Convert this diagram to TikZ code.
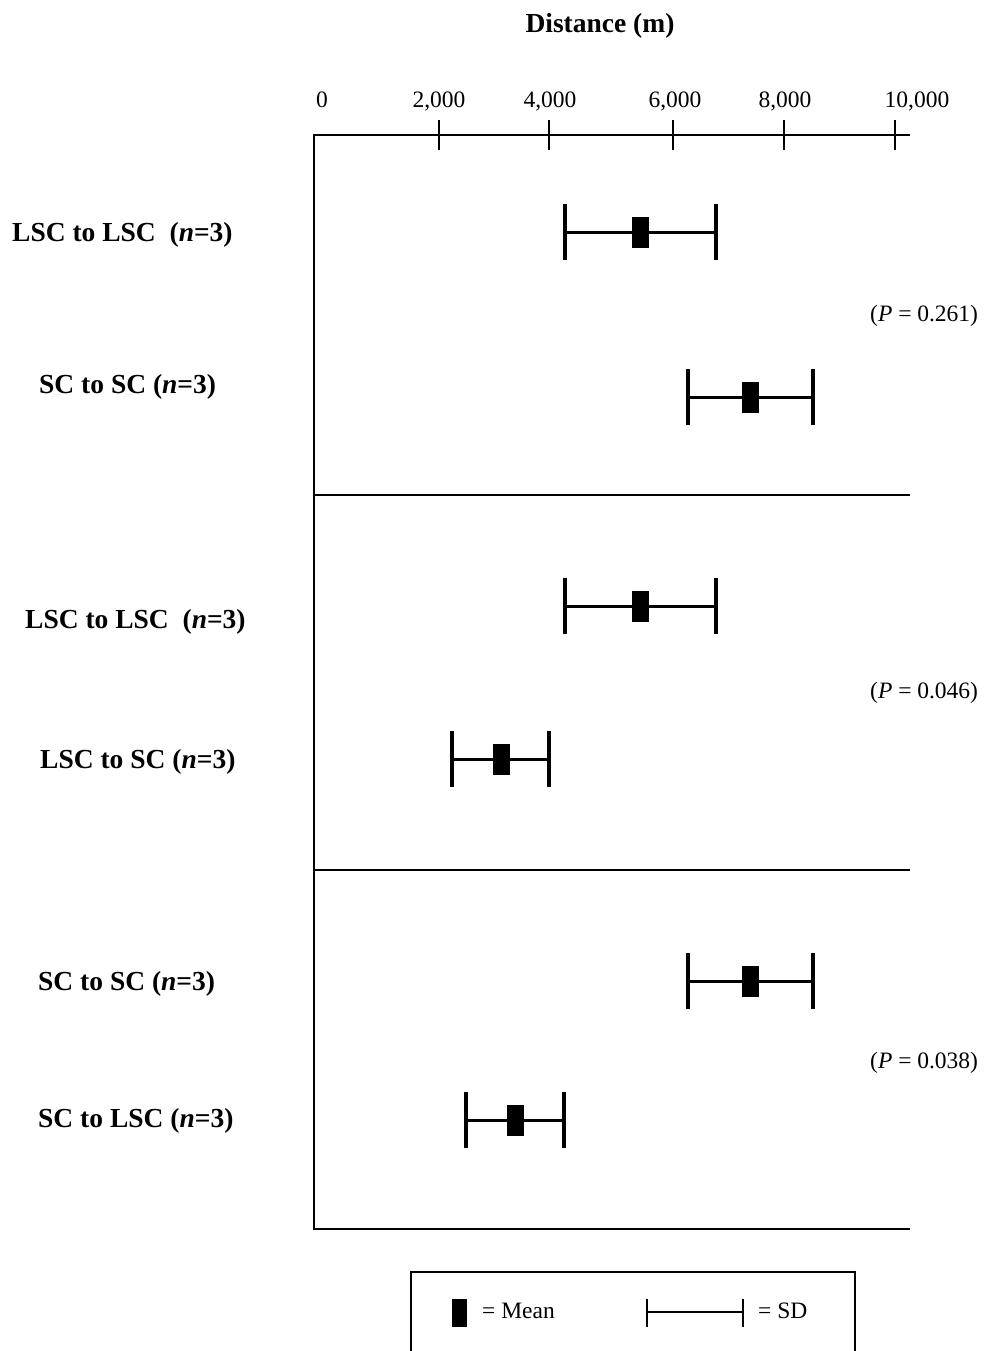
\documentclass[tikz,border=0pt]{standalone}
\usepackage{fontspec}
\setmainfont{Liberation Serif}
\newcommand{\myerrbar}[5]{%
  \coordinate (#1l) at (#3,#2);
  \coordinate (#1r) at (#4,#2);
  \draw[sdbar] (#1l) -- (#1r);
  \draw[sdcap] (#3,#2-28) -- (#3,#2+28);
  \draw[sdcap] (#4,#2-28) -- (#4,#2+28);
  \node[meanbox] (#1m) at (#5,#2) {};
}
\begin{document}
\begin{tikzpicture}[x=1pt,y=-1pt,
  axisline/.style={line width=1.3pt},
  rowlabel/.style={font=\fontsize{27.5}{30}\selectfont\bfseries, anchor=base west, inner sep=0},
  plabel/.style={font=\fontsize{23.5}{26}\selectfont, anchor=base west, inner sep=0},
  ticklabel/.style={font=\fontsize{23.5}{26}\selectfont, anchor=base, inner sep=0},
  sdbar/.style={line width=3pt},
  sdcap/.style={line width=3.3pt},
  meanbox/.style={fill=black, minimum width=17pt, minimum height=31pt, inner sep=0}]
\useasboundingbox (0,0) rectangle (983,1351);

% title
\node[font=\fontsize{27.5}{30}\selectfont\bfseries, anchor=base, inner sep=0] (title) at (600,33) {Distance (m)};

% axis
\coordinate (axtl) at (314,135);
\coordinate (axtr) at (910,135);
\coordinate (axbl) at (314,1229);
\coordinate (axbr) at (910,1229);
\draw[axisline] (axtr) -- (axtl) -- (axbl) -- (axbr);
\coordinate (sep1l) at (314,495);
\coordinate (sep1r) at (910,495);
\coordinate (sep2l) at (314,870);
\coordinate (sep2r) at (910,870);
\draw[axisline] (sep1l) -- (sep1r);
\draw[axisline] (sep2l) -- (sep2r);

% ticks
\foreach \x in {439,549,673,784,895} {
  \draw[axisline] (\x,120) -- (\x,150);
}
\node[ticklabel] (t0) at (322,108) {0};
\node[ticklabel] (t2) at (439,108) {2,000};
\node[ticklabel] (t4) at (550,108) {4,000};
\node[ticklabel] (t6) at (675,108) {6,000};
\node[ticklabel] (t8) at (785,108) {8,000};
\node[ticklabel] (t10) at (917,108) {10,000};

% row labels
\node[rowlabel] (r1) at (12,241) {LSC to LSC~~(\textit{n}=3)};
\node[rowlabel] (r2) at (39,393) {SC to SC (\textit{n}=3)};
\node[rowlabel] (r3) at (25,628) {LSC to LSC~~(\textit{n}=3)};
\node[rowlabel] (r4) at (40,768) {LSC to SC (\textit{n}=3)};
\node[rowlabel] (r5) at (38,990) {SC to SC (\textit{n}=3)};
\node[rowlabel] (r6) at (38,1127) {SC to LSC (\textit{n}=3)};

% P values
\node[plabel] (p1) at (870,321) {(\textit{P} = 0.261)};
\node[plabel] (p2) at (870,698) {(\textit{P} = 0.046)};
\node[plabel] (p3) at (870,1068) {(\textit{P} = 0.038)};

% error bars
\myerrbar{b1}{232}{565}{716}{640}
\myerrbar{b2}{397}{688}{813}{750}
\myerrbar{b3}{606}{565}{716}{640}
\myerrbar{b4}{759}{452}{549}{501}
\myerrbar{b5}{981}{688}{813}{750}
\myerrbar{b6}{1120}{466}{564}{515}

% legend
\coordinate (lgbl) at (411,1360);
\coordinate (lgtl) at (411,1272);
\coordinate (lgtr) at (855,1272);
\coordinate (lgbr) at (855,1360);
\draw[axisline] (lgbl) -- (lgtl) -- (lgtr) -- (lgbr);
\node[fill=black, minimum width=15pt, minimum height=28pt, inner sep=0] (lgmean) at (459.5,1313) {};
\node[plabel] (lgmeant) at (482,1318) {= Mean};
\coordinate (lgsdl) at (647,1312);
\coordinate (lgsdr) at (743,1312);
\draw[line width=1.2pt] (lgsdl) -- (lgsdr);
\draw[line width=1.2pt] (647,1299) -- (647,1327);
\draw[line width=1.2pt] (743,1299) -- (743,1327);
\node[plabel] (lgsdt) at (758,1318) {= SD};
\end{tikzpicture}
\end{document}
